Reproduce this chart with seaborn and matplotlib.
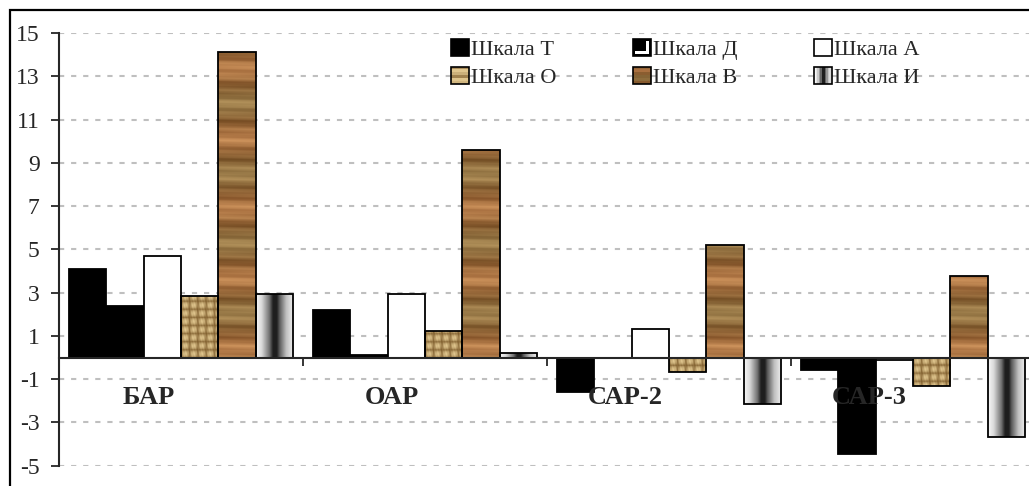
# grouped bar chart of six scales across four groups, Excel-style textured bars

import numpy as np
import pandas as pd
import matplotlib
matplotlib.use("Agg")
import matplotlib.pyplot as plt
import seaborn as sns
from matplotlib.patches import Rectangle, Patch
from matplotlib.legend_handler import HandlerBase

# -- Data ----------------------------------------------------------------------
groups = ["БАР", "ОАР", "САР-2", "САР-3"]
scales = ["Шкала Т", "Шкала Д", "Шкала А", "Шкала О", "Шкала В", "Шкала И"]

scale_t = [4.08, 2.2, -1.6, -0.58]
scale_d = [2.4, 0.1, 0.0, -4.44]
scale_a = [4.71, 2.92, 1.32, -0.12]
scale_o = [2.83, 1.24, -0.66, -1.32]
scale_v = [14.1, 9.6, 5.19, 3.79]
scale_i = [2.94, 0.2, -2.15, -3.67]

y_ticks = list(range(-5, 16, 2))

series = [scale_t, scale_d, scale_a, scale_o, scale_v, scale_i]
df = pd.DataFrame({
    "group": [g for s in series for g in groups],
    "scale": [sc for sc, s in zip(scales, series) for _ in s],
    "value": [v for s in series for v in s],
})

palette = dict(zip(scales, ["black", "black", "white", "#d2b37a", "#8b5a2b", "#888888"]))

# -- Textures ------------------------------------------------------------------
def wood_texture():
    Y, X = np.meshgrid(np.linspace(-5, 15, 900), np.linspace(0, 1, 40), indexing="ij")
    v = (0.55 + 0.2 * np.sin(2 * np.pi * 0.62 * Y) + 0.13 * np.sin(2 * np.pi * 1.7 * Y + 1.3 + 0.8 * X)
         + 0.07 * np.sin(2 * np.pi * 3.9 * Y + 0.4 + 0.5 * X) + 0.03 * np.sin(2 * np.pi * 9 * Y + 3 * X))
    v = np.clip(v, 0, 1)[..., None]
    dark = np.array([0.40, 0.24, 0.09])
    light = np.array([0.78, 0.60, 0.38])
    rgb = dark + v * (light - dark)
    rgb[..., 0] += 0.05 * np.sin(2 * np.pi * 0.31 * Y + 0.7)
    return np.clip(rgb, 0, 1)


def burlap_texture():
    Y, X = np.meshgrid(np.linspace(-5, 15, 900), np.linspace(0, 1, 60), indexing="ij")
    u, v = X * 4.5, Y * 2.7
    w = np.abs(np.sin(np.pi * u)) ** 0.6 * np.abs(np.sin(np.pi * v)) ** 0.6
    w = np.clip(0.9 * w + 0.1 * np.sin(2 * np.pi * 3.1 * u + 5 * v), 0, 1)[..., None]
    dark = np.array([0.50, 0.37, 0.18])
    light = np.array([0.90, 0.80, 0.58])
    return dark + w * (light - dark)


grad_x = [0, 0.15, 0.35, 0.45, 0.55, 0.62, 0.8, 1.0]
grad_v = [0.97, 0.85, 0.45, 0.12, 0.12, 0.35, 0.75, 0.95]


def gradient_texture():
    g = np.interp(np.linspace(0, 1, 80), grad_x, grad_v)
    return np.repeat(g[None, :, None], 3, axis=2)


textures = {"Шкала О": burlap_texture(), "Шкала В": wood_texture(), "Шкала И": gradient_texture()}

# -- Plot ----------------------------------------------------------------------
sns.set_style("white")
plt.rcParams["font.family"] = ["Liberation Serif", "DejaVu Serif"]

fig = plt.figure(figsize=(10.29, 4.86), dpi=100)
ax = fig.add_axes([59 / 1029, 20.3 / 486, 976 / 1029, 432.7 / 486])

sns.barplot(data=df, x="group", y="value", hue="scale", order=groups, hue_order=scales,
            palette=palette, width=0.92, gap=0, edgecolor="black", linewidth=1.3,
            legend=False, ax=ax, zorder=3)

for sc, cont in zip(scales, ax.containers):
    if sc not in textures:
        continue
    for bar in cont:
        bar.set_facecolor("none")
        bar.set_zorder(3)
        x0, w = bar.get_x(), bar.get_width()
        im = ax.imshow(textures[sc], extent=(x0, x0 + w, -5, 15), origin="lower",
                       aspect="auto", interpolation="bilinear", zorder=2.5)
        im.set_clip_path(bar)

ax.set_xlim(-0.5, 3.5)
ax.set_ylim(-5, 15)

# axes styling
ax.set_axisbelow(True)
ax.yaxis.grid(True, color="#bfbfbf", linestyle=(0, (2.5, 3.3)), linewidth=1.5, zorder=0.5)
ax.xaxis.grid(False)
ax.spines["top"].set_visible(False)
ax.spines["right"].set_visible(False)
ax.spines["left"].set_linewidth(1.5)
ax.spines["bottom"].set_position(("data", 0))
ax.spines["bottom"].set_linewidth(1.5)
ax.spines["bottom"].set_zorder(4)
ax.set_yticks(y_ticks)
ax.set_yticklabels([str(t) for t in y_ticks], fontsize=17)
ax.set_xticks([0.5, 1.5, 2.5])
ax.set_xticklabels([])
ax.tick_params(axis="y", direction="out", length=6, width=1.3, pad=8, left=True)
ax.tick_params(axis="x", direction="out", length=6, width=1.3, bottom=True)
ax.set_xlabel("")
ax.set_ylabel("")

for i, g in enumerate(groups):
    ax.text(i - 0.025, -1.83, g, ha="right", va="center", fontsize=19,
            fontweight="bold", zorder=5)


# -- Legend --------------------------------------------------------------------
class TextureHandler(HandlerBase):
    def __init__(self, kind):
        super().__init__()
        self.kind = kind

    def create_artists(self, legend, orig_handle, xd, yd, w, h, fontsize, trans):
        x, y = -xd, -yd
        arts = []
        if self.kind == "Шкала Т":
            arts.append(Rectangle((x, y), w, h, fc="black", ec="black", lw=1.2))
        elif self.kind == "Шкала Д":
            arts.append(Rectangle((x, y), w, h, fc="black", ec="black", lw=1.2))
            arts.append(Rectangle((x + 0.12 * w, y + 0.12 * h), 0.76 * w, 0.76 * h, fc="white", lw=0))
            arts.append(Rectangle((x, y + 0.28 * h), 0.72 * w, 0.72 * h, fc="black", lw=0))
        elif self.kind == "Шкала А":
            arts.append(Rectangle((x, y), w, h, fc="white", ec="black", lw=1.2))
        elif self.kind == "Шкала И":
            g = np.interp(np.linspace(0, 1, 12), grad_x, grad_v)
            for k, gv in enumerate(g):
                arts.append(Rectangle((x + k * w / 12, y), w / 12, h, fc=str(gv), lw=0))
            arts.append(Rectangle((x, y), w, h, fc="none", ec="black", lw=1.2))
        else:
            tex = textures[self.kind]
            rows = np.linspace(420, 560, 6).astype(int)
            for k, r in enumerate(rows):
                c = tex[r, tex.shape[1] // 3]
                arts.append(Rectangle((x, y + k * h / 6), w, h / 6, fc=c, lw=0))
            arts.append(Rectangle((x, y), w, h, fc="none", ec="black", lw=1.2))
        for a in arts:
            a.set_transform(trans)
        return arts


handles = [Patch(label=sc) for sc in scales]
order = [0, 3, 1, 4, 2, 5]
leg = fig.legend([handles[k] for k in order], [scales[k] for k in order],
                 handler_map={handles[k]: TextureHandler(scales[k]) for k in range(6)},
                 ncol=3, frameon=False, fontsize=16, handlelength=0.8, handleheight=0.8,
                 handletextpad=0.1, columnspacing=3.45, labelspacing=0.29,
                 loc="upper left", bbox_to_anchor=(431 / 1029, 1 - 19 / 486))

# outer chart border (cropped on right and bottom in the reference)
fig.add_artist(Rectangle((10 / 1029, -0.2), 1.2, 1.2 - 10 / 486, transform=fig.transFigure,
                         fill=False, ec="black", lw=1.6, clip_on=False))

fig.savefig("out.png", dpi=100)
plt.close(fig)
